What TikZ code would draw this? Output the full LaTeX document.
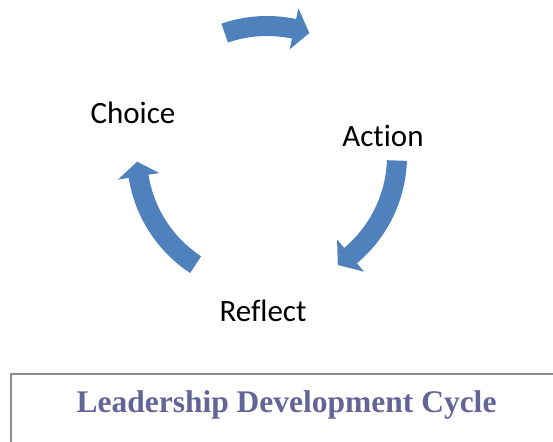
\documentclass[tikz,border=0pt]{standalone}
\usepackage{fontspec}
\setmainfont{Carlito}[Ligatures={NoCommon}]
\newfontfamily\captionfont{Liberation Serif}
\definecolor{cycblue}{RGB}{79,129,189}
\definecolor{capviolet}{RGB}{100,100,152}
\definecolor{framegray}{RGB}{140,140,140}
\newcommand\cycarrow[3]{% start angle, head base angle, tip angle
  \fill[cycblue,shift={(\cx,\cy)}] (#1:\ro) arc[start angle=#1,end angle=#2,radius=\ro]
    -- (#2:\rho) -- (#3:\rr) -- (#2:\rhi) -- (#2:\ri)
    arc[start angle=#2,end angle=#1,radius=\ri] -- cycle;}
\begin{document}
\begin{tikzpicture}[x=1pt, y=1pt, line join=round,
    steplabel/.style={font=\fontsize{31}{36}\selectfont, text=black, inner sep=0pt}]
  \def\cx{267} \def\cy{285} % centre of the cycle
  \def\rr{130} \def\ro{140} \def\ri{120} \def\rho{151} \def\rhi{109}
  \useasboundingbox (0,0) rectangle (553,441);
  % the three curved arrows
  \cycarrow{109}{78}{71}
  \cycarrow{-2}{-50}{-57}
  \cycarrow{236.7}{189}{182.5}
  % labels
  \node[steplabel] (choice) at (133,328) {Choice};
  \node[steplabel] (action) at (383,305) {Action};
  \node[steplabel] (reflect) at (263,130) {Reflect};
  % caption frame
  \draw[framegray, line width=2pt] (11,-2) -- (11,67) -- (556,67);
  \node[anchor=base, text=capviolet, font=\captionfont\bfseries\fontsize{31.5}{36}\selectfont, inner sep=0pt]
    (caption) at (286.5,29) {Leadership Development Cycle};
\end{tikzpicture}
\end{document}
